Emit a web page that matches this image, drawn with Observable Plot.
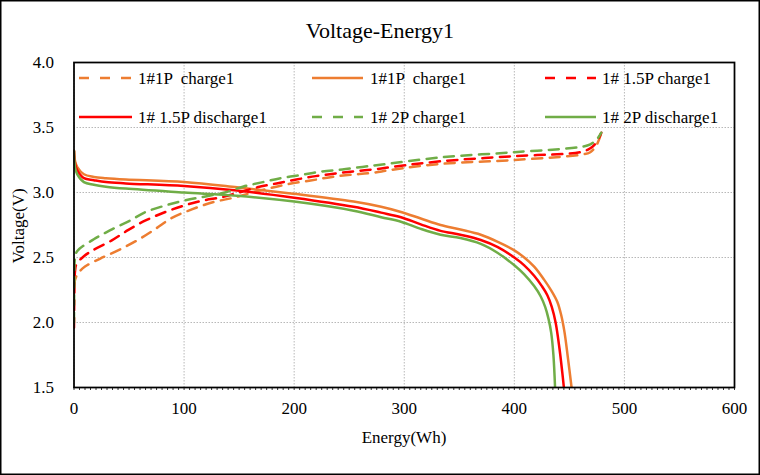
<!DOCTYPE html>
<html>
<head>
<meta charset="utf-8">
<script src="https://cdn.jsdelivr.net/npm/d3@7"></script>
<script src="https://cdn.jsdelivr.net/npm/@observablehq/plot@0.6"></script>
<style>
  html, body { margin: 0; padding: 0; background: #fff; }
  svg { display: block; }
</style>
</head>
<body>
<div id="chart"></div>
<script>
// ---- data (Energy Wh, Voltage V) ----
const chg1P_E = [0, 1, 3.8, 10, 23.5, 40, 57, 74, 88, 107, 126, 145, 162, 179, 196, 215, 233, 251, 270, 289, 333, 400, 460, 469, 475, 479];
const chg1P_V = [2.28, 2.33, 2.38, 2.43, 2.49, 2.555, 2.63, 2.72, 2.80, 2.87, 2.925, 2.96, 3.0, 3.035, 3.067, 3.092, 3.118, 3.136, 3.15, 3.175, 3.22, 3.25, 3.29, 3.31, 3.37, 3.46];

const dis1P_E = [0, 1, 3, 9, 18, 29, 47, 100, 148, 200, 254, 279, 297, 315, 333, 351, 369.5, 385, 400, 409, 418, 427, 434, 439, 442.5, 445.5, 448.5, 452];
const dis1P_V = [3.32, 3.24, 3.195, 3.14, 3.12, 3.11, 3.10, 3.08, 3.04, 2.99, 2.93, 2.89, 2.85, 2.80, 2.75, 2.715, 2.675, 2.62, 2.555, 2.50, 2.43, 2.33, 2.24, 2.16, 2.06, 1.93, 1.74, 1.5];

const chg15P_E = [0, 0.3, 1, 2.3, 9, 17, 34, 49, 65, 83, 100, 117, 135, 150, 166.5, 184, 202, 219.5, 237.6, 255.8, 274.8, 292, 333, 400, 460, 469, 475, 479];
const chg15P_V = [1.96, 2.2, 2.40, 2.45, 2.51, 2.555, 2.63, 2.71, 2.785, 2.85, 2.90, 2.938, 2.965, 3.00, 3.04, 3.07, 3.10, 3.126, 3.146, 3.164, 3.18, 3.20, 3.24, 3.28, 3.31, 3.34, 3.39, 3.46];

const dis15P_E = [0, 1, 3, 9, 18, 29, 47, 100, 148, 200, 254, 279, 297, 315, 333, 351, 369.5, 385, 400, 409, 418, 425, 430, 434, 437.5, 441, 443.5, 445];
const dis15P_V = [3.32, 3.22, 3.17, 3.11, 3.095, 3.08, 3.07, 3.05, 3.015, 2.96, 2.89, 2.845, 2.81, 2.755, 2.705, 2.675, 2.635, 2.58, 2.50, 2.44, 2.36, 2.28, 2.21, 2.12, 2.0, 1.80, 1.62, 1.5];

const chg2P_E = [0, 0.3, 1, 3, 18, 33, 50, 65, 83, 101, 119.5, 137, 154, 171.6, 189.5, 207.4, 225.6, 243.8, 262, 280, 333, 400, 460, 469, 475, 479];
const chg2P_V = [2.0, 2.3, 2.50, 2.55, 2.64, 2.71, 2.78, 2.85, 2.90, 2.94, 2.97, 3.00, 3.046, 3.08, 3.113, 3.136, 3.162, 3.177, 3.197, 3.215, 3.27, 3.31, 3.35, 3.37, 3.41, 3.46];

const dis2P_E = [0, 1, 3, 9, 18, 29, 47, 100, 148, 200, 254, 279, 297, 315, 333, 351, 369.5, 385, 400, 409, 418, 424, 428, 431, 433.5, 435.5, 437];
const dis2P_V = [3.32, 3.19, 3.14, 3.08, 3.06, 3.045, 3.03, 3.00, 2.975, 2.93, 2.86, 2.81, 2.775, 2.72, 2.675, 2.65, 2.605, 2.535, 2.44, 2.37, 2.28, 2.20, 2.12, 2.03, 1.92, 1.75, 1.5];

const seriesNames = ["1#1P  charge1", "1#1P  charge1", "1# 1.5P charge1", "1# 1.5P discharge1", "1# 2P charge1", "1# 2P discharge1"];
const xTicks = [0, 100, 200, 300, 400, 500, 600];
const yTicks = [1.5, 2.0, 2.5, 3.0, 3.5, 4.0];
const minorX = d3.range(0, 601, 5);

// ---- styles ----
const seriesData = [[chg1P_E, chg1P_V], [dis1P_E, dis1P_V], [chg15P_E, chg15P_V], [dis15P_E, dis15P_V], [chg2P_E, chg2P_V], [dis2P_E, dis2P_V]];
const colors = ["#ED7D31", "#ED7D31", "#FF0000", "#FF0000", "#70AD47", "#70AD47"];
const dashed = [true, false, true, false, true, false];

const serif = "'Liberation Serif','Times New Roman',Times,serif";

const lineMarks = seriesData.map(([E, V], i) =>
  Plot.line(E.map((e, j) => [e, V[j]]), {
    x: d => d[0], y: d => d[1],
    stroke: colors[i], strokeWidth: 2.5,
    strokeDasharray: dashed[i] ? "10,7.5" : null,
    curve: "catmull-rom", clip: true
  })
);

const chart = Plot.plot({
  width: 760, height: 475,
  marginLeft: 73.5, marginRight: 26, marginTop: 62, marginBottom: 88,
  style: { fontFamily: serif, background: "#fff", color: "#000" },
  x: { domain: [0, 600] },
  y: { domain: [1.5, 4.0] },
  marks: [
    Plot.gridX(xTicks, { stroke: "#b8b8b8", strokeOpacity: 1, strokeDasharray: "1.5,1.5" }),
    Plot.gridY(yTicks, { stroke: "#b8b8b8", strokeOpacity: 1, strokeDasharray: "1.5,1.5" }),
    ...lineMarks,
    Plot.frame({ stroke: "#000", strokeWidth: 1.75 }),
    Plot.axisX(minorX, { tickSize: 3, text: null, label: null, stroke: "#000", strokeWidth: 0.8 }),
    Plot.axisX(xTicks, { tickSize: 0, tickPadding: 14.5, fontSize: 17, tickFormat: d => String(d), label: null }),
    Plot.axisY(yTicks, { tickSize: 0, tickPadding: 20, fontSize: 17, tickFormat: d => d.toFixed(1), label: null })
  ]
});

document.getElementById("chart").appendChild(chart);

const svg = d3.select(chart);

// outer border
svg.append("rect")
  .attr("x", 0.75).attr("y", 0.75).attr("width", 758.5).attr("height", 473.5)
  .attr("fill", "none").attr("stroke", "#000").attr("stroke-width", 1.5);

// title
svg.append("text")
  .attr("x", 380).attr("y", 30).attr("text-anchor", "middle").attr("dominant-baseline", "central")
  .attr("font-size", 22).attr("font-family", serif).attr("fill", "#000")
  .text("Voltage-Energy1");

// axis titles
svg.append("text")
  .attr("x", 404).attr("y", 437).attr("text-anchor", "middle").attr("dominant-baseline", "central")
  .attr("font-size", 17).attr("font-family", serif).attr("fill", "#000")
  .text("Energy(Wh)");
svg.append("text")
  .attr("transform", "translate(18,226) rotate(-90)")
  .attr("text-anchor", "middle").attr("dominant-baseline", "central")
  .attr("font-size", 17).attr("font-family", serif).attr("fill", "#000")
  .text("Voltage(V)");

// legend (inside plot area, 3 columns x 2 rows)
const legCols = [[79, 132, 138], [312, 363, 370], [545, 596, 602]];
const legRows = [78, 117];
seriesNames.forEach((name, i) => {
  const [x1, x2, tx] = legCols[i % 3];
  const y = legRows[Math.floor(i / 3)];
  svg.append("line")
    .attr("x1", x1).attr("x2", x2).attr("y1", y).attr("y2", y)
    .attr("stroke", colors[i]).attr("stroke-width", 2.5)
    .attr("stroke-dasharray", dashed[i] ? "10,11" : null);
  svg.append("text")
    .attr("x", tx).attr("y", y).attr("text-anchor", "start").attr("dominant-baseline", "central")
    .attr("font-size", 17).attr("font-family", serif).attr("fill", "#000")
    .style("white-space", "pre")
    .text(name);
});
</script>
</body>
</html>
